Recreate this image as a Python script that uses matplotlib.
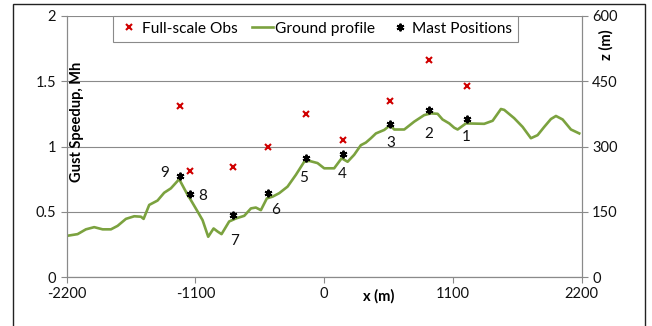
import matplotlib
matplotlib.use("Agg")
import matplotlib.pyplot as plt
from matplotlib.patches import Rectangle
from matplotlib.lines import Line2D

plt.rcParams['font.family'] = ['Lato', 'DejaVu Sans']
plt.rcParams['axes.unicode_minus'] = False

# Ground profile (x in m, z in m)
ground_x = [-2200, -2107, -2036, -1965, -1893, -1822, -1765, -1694, -1623, -1566, -1543,
            -1495, -1424, -1367, -1310, -1239, -1167, -1139, -1082, -1039, -991, -945,
            -911, -877, -812, -754, -683, -626, -584, -541, -490, -441, -384, -313,
            -242, -171, -128, -57, 0, 85, 149, 200, 256, 313, 356, 399, 442, 513,
            564, 598, 684, 769, 854, 912, 969, 1011, 1068, 1111, 1140, 1211, 1367,
            1439, 1510, 1538, 1623, 1695, 1766, 1823, 1880, 1937, 1980, 2037, 2108, 2179]
ground_z = [95, 99, 110, 115, 110, 110, 118, 134, 140, 139, 134,
            166, 176, 194, 204, 225, 189, 177, 151, 131, 93, 112,
            105, 99, 128, 135, 141, 158, 160, 154, 181, 185, 193, 208,
            235, 265, 267, 262, 250, 250, 273, 265, 281, 303, 309, 319, 330, 338,
            349, 339, 339, 357, 372, 376, 375, 362, 353, 343, 339, 353, 352,
            359, 386, 384, 365, 345, 319, 326, 345, 363, 370, 362, 339, 330]

# Mast positions
mast_ids = ['1', '2', '3', '4', '5', '6', '7', '8', '9']
mast_x = [1219, 894, 564, 157, -156, -481, -777, -1147, -1230]
mast_z = [362, 384, 352, 283, 274, 194, 144, 190, 232]

# Full-scale observations (gust speedup Mh)
obs_x = [1219, 894, 564, 157, -156, -481, -777, -1150, -1230]
obs_mh = [1.46, 1.66, 1.35, 1.05, 1.25, 1.00, 0.84, 0.81, 1.31]

xticks = [-2200, -1100, 0, 1100, 2200]
yticks = [0, 0.5, 1, 1.5, 2]
zticks = [0, 150, 300, 450, 600]

# label offsets in pixels (dx, dy), dy upward positive
label_offsets = {'1': (-1, -18), '2': (0, -24), '3': (1, -19), '4': (0, -20),
                 '5': (-2, -20), '6': (8, -17), '7': (1, -26), '8': (13, -2), '9': (-16, 3)}

W, H = 652, 326
fig = plt.figure(figsize=(W / 100, H / 100), dpi=100)
ax = fig.add_axes([66.7 / W, 1 - 277.3 / H, (581.7 - 66.7) / W, (277.3 - 15.7) / H])
ax2 = ax.twinx()

grid_c = '#8a8a8a'
red = '#d00000'
green = '#7ba23f'

ax.set_xlim(-2200, 2200)
ax.set_ylim(0, 2)
ax2.set_ylim(0, 600)
ax.set_xticks(xticks)
ax.set_xticklabels([str(v) for v in xticks])
ax.set_yticks(yticks)
ax2.set_yticks(zticks)
ax.set_yticklabels([f'{v:g}' for v in yticks])
ax.grid(axis='y', color=grid_c, lw=0.8)
ax.set_axisbelow(True)

for a in (ax, ax2):
    for s in a.spines.values():
        s.set_color(grid_c)
        s.set_linewidth(0.8)
    a.spines['top'].set_visible(False)
    a.tick_params(colors=grid_c, labelcolor='#111111', labelsize=10.5, length=4, width=0.8)

ax.tick_params(axis='x', pad=3)
ax2.set_zorder(ax.get_zorder() + 1)
ax2.patch.set_visible(False)

ax2.plot(ground_x, ground_z, color=green, lw=1.9, zorder=2)
ax2.plot(mast_x, mast_z, ls='none', marker=(6, 2, 0), ms=5.5, mew=1.4, color='black', zorder=4)
ax.plot(obs_x, obs_mh, ls='none', marker='x', ms=3.8, mew=1.5, color=red, zorder=3)

for mid, mx, mz in zip(mast_ids, mast_x, mast_z):
    dx, dy = label_offsets[mid]
    ax2.annotate(mid, (mx, mz), xytext=(dx, dy), textcoords='offset pixels',
                 ha='center', va='center', fontsize=11, color='#111111')

fig.text(77 / W, 1 - 122 / H, 'Gust Speedup, Mh', rotation=90, ha='center', va='center',
         fontsize=10.5, fontweight='bold')
fig.text(606 / W, 1 - 45 / H, 'z (m)', rotation=90, ha='center', va='center',
         fontsize=10.5, fontweight='bold')
fig.text(379 / W, 1 - 296 / H, 'x (m)', ha='center', va='center',
         fontsize=10.5, fontweight='bold')

handles = [Line2D([], [], ls='none', marker='x', ms=3.8, mew=1.5, color=red),
           Line2D([], [], color=green, lw=1.9),
           Line2D([], [], ls='none', marker=(6, 2, 0), ms=5.5, mew=1.4, color='black')]
leg = fig.legend(handles, ['Full-scale Obs', 'Ground profile', 'Mast Positions'],
                 loc='upper left', bbox_to_anchor=(113 / W, 1 - 15.7 / H), ncol=3,
                 fontsize=11.2, frameon=True, fancybox=False, framealpha=1,
                 edgecolor=grid_c, handlelength=1.3, handletextpad=0.15,
                 columnspacing=0.95, borderpad=0.4, borderaxespad=0)
leg.get_frame().set_linewidth(0.8)

fig.add_artist(Rectangle((13 / W, -0.1), (645 - 13) / W, (326 - 4) / H + 0.1,
                         transform=fig.transFigure, fill=False, ec='#222222', lw=1))

fig.savefig('out.png', dpi=100)
